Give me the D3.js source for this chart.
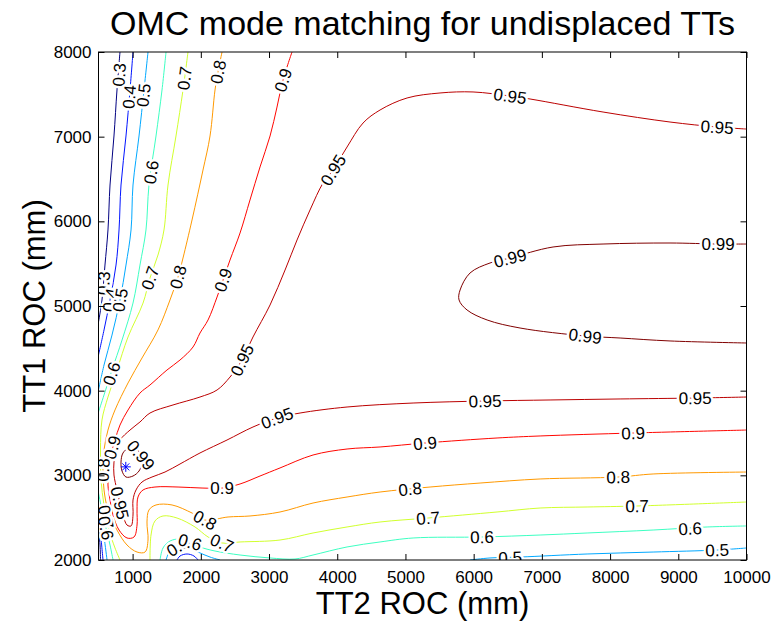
<!DOCTYPE html>
<html>
<head>
<meta charset="utf-8">
<script src="https://cdn.jsdelivr.net/npm/d3@7"></script>
<style>
  body { margin: 0; background: #fff; }
  text { font-family: Arial, "Liberation Sans", sans-serif; }
</style>
</head>
<body>
<div id="viz"></div>
<script>
// axis ticks
const xTicks = [1000, 2000, 3000, 4000, 5000, 6000, 7000, 8000, 9000, 10000];
const yTicks = [2000, 3000, 4000, 5000, 6000, 7000, 8000];
const levels = [0.3, 0.4, 0.5, 0.6, 0.7, 0.8, 0.9, 0.95, 0.99];

// contour lines, [TT2 ROC, TT1 ROC] in mm
const c30a = [[815,8000],[771,7551],[727,7008],[669,6429],[639,5898],[595,5484],[551,5071],[500,4811]];
const c30b = [[500,2378],[522,2177],[529,2000]];
const c40a = [[1006,8000],[962,7551],[903,7008],[830,6429],[801,5898],[757,5484],[669,5071],[581,4717],[500,4421]];
const c40b = [[500,2508],[529,2319],[566,2000]];
const c40c = [[1651,2000],[1695,2047],[1798,2071],[1900,2047],[1959,2000]];
const c50a = [[1226,8000],[1167,7551],[1094,7008],[1006,6429],[977,5898],[903,5484],[815,5071],[698,4657],[581,4303],[500,4008]];
const c50b = [[500,2650],[537,2472],[581,2272],[625,2000]];
const c50c = [[1490,2000],[1548,2106],[1666,2165],[1812,2154],[1959,2094],[2135,2035],[2282,2000]];
const c50d = [[5947,2000],[6240,2024],[6680,2035],[7663,2071],[8631,2094],[9569,2118],[10000,2142]];
const c60a = [[1490,8000],[1431,7551],[1343,7008],[1240,6429],[1196,5898],[1108,5484],[1006,5035],[845,4598],[698,4244],[581,3949],[500,3748]];
const c60b = [[500,2791],[551,2591],[610,2378],[669,2177],[713,2000]];
const c60c = [[1402,2000],[1446,2142],[1548,2224],[1695,2248],[1841,2213],[1988,2154],[2208,2106],[2575,2059],[3015,2024],[3381,2012],[3645,2059],[4144,2154],[4628,2213],[5112,2260],[6123,2272],[6974,2295],[7663,2319],[8631,2354],[9423,2390],[10000,2402]];
const c70a = [[1812,8000],[1739,7551],[1636,7008],[1519,6429],[1460,5898],[1372,5602],[1255,5331],[1153,5035],[933,4634],[771,4244],[639,3925],[551,3654],[529,3299],[537,2945],[581,2650],[654,2354],[742,2142],[815,2000]];
const c70b = [[1255,2000],[1270,2295],[1328,2461],[1446,2520],[1651,2496],[1915,2390],[2106,2272],[2311,2201],[2575,2213],[3161,2236],[3645,2319],[4144,2390],[4628,2449],[5332,2496],[6343,2567],[6974,2614],[7663,2626],[8396,2638],[10000,2685]];
const c80 = [[2311,8000],[2252,7764],[2208,7551],[2135,7008],[2032,6606],[1871,6016],[1739,5567],[1666,5343],[1548,5071],[1372,4717],[1138,4386],[933,4091],[742,3772],[639,3535],[581,3299],[566,3063],[581,2827],[639,2591],[771,2354],[918,2177],[1065,2094],[1182,2094],[1226,2236],[1211,2449],[1240,2591],[1343,2650],[1578,2650],[1871,2555],[2062,2472],[2399,2508],[2721,2520],[3161,2567],[3645,2673],[4144,2744],[4628,2803],[5361,2862],[6094,2909],[6974,2957],[8118,2980],[8631,3016],[10000,3039]];
const c90 = [[3337,8000],[3205,7669],[3117,7350],[3015,7008],[2868,6642],[2721,6252],[2575,5862],[2428,5543],[2326,5307],[2238,5106],[2106,4835],[1988,4681],[1886,4516],[1695,4362],[1504,4244],[1255,4067],[1108,3972],[933,3772],[815,3594],[742,3417],[683,3240],[654,3063],[639,2886],[669,2709],[713,2531],[801,2354],[918,2260],[1021,2272],[1065,2413],[1065,2591],[1079,2744],[1153,2827],[1328,2862],[1666,2862],[2018,2850],[2311,2850],[2575,2898],[2868,2992],[3161,3087],[3645,3240],[4144,3311],[4628,3335],[5288,3382],[6343,3441],[6974,3465],[8338,3500],[10000,3535]];
const c95 = [[10000,7090],[9569,7114],[8879,7173],[7897,7291],[6827,7445],[6534,7480],[5991,7528],[5507,7516],[5024,7457],[4628,7315],[4378,7161],[4144,6878],[3939,6606],[3792,6453],[3601,6134],[3411,5780],[3235,5425],[3015,5012],[2765,4634],[2604,4362],[2428,4161],[2238,4008],[1988,3925],[1592,3831],[1255,3736],[1108,3630],[962,3535],[815,3417],[757,3299],[727,3157],[727,3004],[771,2827],[815,2673],[859,2531],[918,2413],[977,2402],[1006,2531],[1006,2709],[1050,2827],[1138,2921],[1284,2980],[1475,3039],[1695,3134],[1988,3264],[2384,3417],[2765,3571],[3117,3677],[3455,3736],[4144,3807],[5112,3854],[6167,3878],[7120,3890],[8147,3902],[9247,3913],[10000,3925]];
const c99a = [[830,3157],[859,3264],[947,3323],[1050,3311],[1123,3240],[1138,3146],[1094,3051],[1006,2992],[903,2980],[845,3051]];
const c99b = [[10000,5732],[9584,5732],[8879,5744],[7897,5732],[7164,5697],[6534,5567],[6240,5508],[5947,5390],[5801,5189],[5786,5071],[5903,4953],[6197,4835],[6680,4740],[7634,4646],[8147,4622],[8879,4587],[10000,4563]];

// best point found (blue star)
const optimum = [900, 3100];

// contour labels: [level, TT2 ROC, TT1 ROC]
const contourLabels = [
  [0.3, 800, 7730], [0.4, 950, 7470], [0.5, 1160, 7490], [0.6, 1270, 6580],
  [0.7, 1760, 7690], [0.8, 2252, 7764], [0.9, 3205, 7669],
  [0.3, 570, 5270], [0.4, 669, 5071], [0.5, 815, 5071], [0.6, 690, 4200],
  [0.7, 1255, 5331], [0.8, 1666, 5343], [0.9, 2326, 5307],
  [0.95, 2604, 4362], [0.95, 3939, 6606], [0.95, 6534, 7480], [0.95, 9569, 7114],
  [0.99, 6534, 5567], [0.99, 9584, 5732], [0.99, 7634, 4646],
  [0.95, 3117, 3677], [0.95, 6167, 3878], [0.95, 9247, 3913],
  [0.9, 2311, 2850], [0.9, 5288, 3382], [0.9, 8338, 3500],
  [0.8, 2062, 2472], [0.8, 5068, 2840], [0.8, 8118, 2980],
  [0.7, 2311, 2201], [0.7, 5332, 2496], [0.7, 8396, 2638],
  [0.6, 6123, 2272], [0.6, 9173, 2372], [0.5, 6534, 2030], [0.5, 9569, 2118],
  [0.99, 1123, 3240], [0.9, 700, 3330], [0.95, 815, 2673], [0.8, 566, 3063],
  [0.7, 610, 2510], [0.6, 610, 2378], [0.5, 1666, 2165], [0.6, 1841, 2213]
];

const contours = [
  {level: 0.3, points: c30a}, {level: 0.3, points: c30b},
  {level: 0.4, points: c40a}, {level: 0.4, points: c40b}, {level: 0.4, points: c40c},
  {level: 0.5, points: c50a}, {level: 0.5, points: c50b}, {level: 0.5, points: c50c}, {level: 0.5, points: c50d},
  {level: 0.6, points: c60a}, {level: 0.6, points: c60b}, {level: 0.6, points: c60c},
  {level: 0.7, points: c70a}, {level: 0.7, points: c70b},
  {level: 0.8, points: c80},
  {level: 0.9, points: c90},
  {level: 0.95, points: c95},
  {level: 0.99, points: c99a, closed: true}, {level: 0.99, points: c99b}
];

const width = 773, height = 625;
const plotL = 98.5, plotR = 746.5, plotT = 52, plotB = 560;

const svg = d3.select("#viz").append("svg")
  .attr("width", width)
  .attr("height", height);

const x = d3.scaleLinear().domain([500, 10000]).range([plotL, plotR]);
const y = d3.scaleLinear().domain([2000, 8000]).range([plotB, plotT]);

// matlab jet colours over the level range
const jet = t => {
  const c = v => Math.round(255 * Math.max(0, Math.min(1, v)));
  return d3.rgb(c(1.5 - Math.abs(4 * t - 3)), c(1.5 - Math.abs(4 * t - 2)), c(1.5 - Math.abs(4 * t - 1))).toString();
};
const levelT = d3.scaleLinear().domain(d3.extent(levels)).range([0, 1]);
const color = lv => jet(levelT(lv));

svg.append("defs").append("clipPath").attr("id", "plotclip")
  .append("rect").attr("x", plotL).attr("y", plotT)
  .attr("width", plotR - plotL).attr("height", plotB - plotT);

const plot = svg.append("g").attr("clip-path", "url(#plotclip)");

const line = d3.line().x(d => x(d[0])).y(d => y(d[1])).curve(d3.curveCatmullRom.alpha(0.5));
const loop = d3.line().x(d => x(d[0])).y(d => y(d[1])).curve(d3.curveCatmullRomClosed.alpha(0.5));

plot.selectAll("path.contour")
  .data(contours)
  .enter()
  .append("path")
  .attr("class", "contour")
  .attr("d", d => (d.closed ? loop : line)(d.points))
  .attr("fill", "none")
  .attr("stroke", d => color(d.level))
  .attr("stroke-width", 1);

// label angle from the nearest stretch of its own line
function labelAngle(lv, px, py) {
  let best = Infinity, ang = 0;
  contours.filter(c => c.level === lv).forEach(c => {
    const pts = c.points.map(p => [x(p[0]), y(p[1])]);
    if (c.closed) pts.push(pts[0]);
    for (let i = 0; i < pts.length - 1; i++) {
      const [x1, y1] = pts[i], [x2, y2] = pts[i + 1];
      const dx = x2 - x1, dy = y2 - y1;
      let t = ((px - x1) * dx + (py - y1) * dy) / (dx * dx + dy * dy || 1);
      t = Math.max(0, Math.min(1, t));
      const dist = Math.hypot(px - (x1 + t * dx), py - (y1 + t * dy));
      if (dist < best) { best = dist; ang = Math.atan2(dy, dx) * 180 / Math.PI; }
    }
  });
  if (ang > 90) ang -= 180;
  if (ang < -90) ang += 180;
  return ang;
}

plot.selectAll("text.clabel")
  .data(contourLabels)
  .enter()
  .append("text")
  .attr("class", "clabel")
  .attr("transform", d => `translate(${x(d[1])},${y(d[2])}) rotate(${labelAngle(d[0], x(d[1]), y(d[2]))})`)
  .attr("text-anchor", "middle")
  .attr("dy", "0.36em")
  .attr("font-size", 17)
  .attr("fill", "#000")
  .attr("stroke", "#fff")
  .attr("stroke-width", 5)
  .attr("stroke-linejoin", "round")
  .style("paint-order", "stroke")
  .text(d => String(d[0]));

// blue star marker
const star = plot.append("g")
  .attr("transform", `translate(${x(optimum[0])},${y(optimum[1])})`)
  .attr("stroke", "#0000ff")
  .attr("stroke-width", 1);
[[-5, 0, 5, 0], [0, -5, 0, 5], [-3.5, -3.5, 3.5, 3.5], [-3.5, 3.5, 3.5, -3.5]].forEach(s => {
  star.append("line").attr("x1", s[0]).attr("y1", s[1]).attr("x2", s[2]).attr("y2", s[3]);
});

// axes, ticks pointing inward on all four sides
const fmt = d3.format("d");
const xAxis = d3.axisBottom(x).tickValues(xTicks).tickFormat(fmt).tickSize(-6).tickSizeOuter(0).tickPadding(11);
const yAxis = d3.axisLeft(y).tickValues(yTicks).tickFormat(fmt).tickSize(-6).tickSizeOuter(0).tickPadding(7);

const gx = svg.append("g").attr("transform", `translate(0,${plotB})`).call(xAxis);
const gy = svg.append("g").attr("transform", `translate(${plotL},0)`).call(yAxis);
const gxt = svg.append("g").attr("transform", `translate(0,${plotT})`)
  .call(d3.axisTop(x).tickValues(xTicks).tickSize(-6).tickSizeOuter(0).tickFormat(""));
const gyr = svg.append("g").attr("transform", `translate(${plotR},0)`)
  .call(d3.axisRight(y).tickValues(yTicks).tickSize(-6).tickSizeOuter(0).tickFormat(""));

[gx, gy, gxt, gyr].forEach(g => {
  g.select(".domain").remove();
  g.selectAll(".tick line").attr("stroke", "#000");
  g.selectAll(".tick text").attr("font-size", 17).attr("fill", "#000")
    .attr("font-family", "Arial, 'Liberation Sans', sans-serif");
});

svg.append("rect")
  .attr("x", plotL).attr("y", plotT)
  .attr("width", plotR - plotL).attr("height", plotB - plotT)
  .attr("fill", "none").attr("stroke", "#000").attr("stroke-width", 1);

svg.append("text")
  .attr("x", (plotL + plotR) / 2).attr("y", 35)
  .attr("text-anchor", "middle")
  .attr("font-size", 34)
  .text("OMC mode matching for undisplaced TTs");

svg.append("text")
  .attr("x", (plotL + plotR) / 2).attr("y", 614)
  .attr("text-anchor", "middle")
  .attr("font-size", 31)
  .text("TT2 ROC (mm)");

svg.append("text")
  .attr("transform", `translate(45,${(plotT + plotB) / 2}) rotate(-90)`)
  .attr("text-anchor", "middle")
  .attr("font-size", 31)
  .text("TT1 ROC (mm)");
</script>
</body>
</html>
